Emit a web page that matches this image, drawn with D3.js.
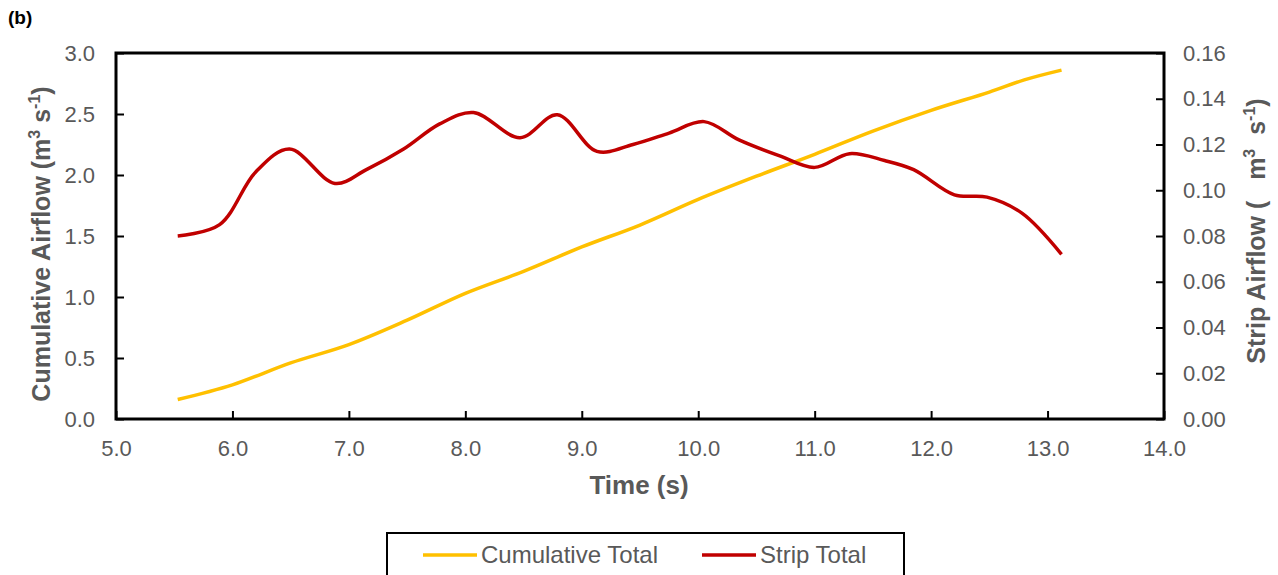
<!DOCTYPE html>
<html>
<head>
<style>
  body { margin: 0; background: #fff; }
  svg text { font-family: "Liberation Sans", Arial, sans-serif; }
</style>
</head>
<body>
<div id="chart"></div>
<script src="https://d3js.org/d3.v7.min.js"></script>
<script>
// cumulative total (left axis)
const cumTime = [5.53, 6.0, 6.5, 7.0, 7.5, 8.0, 8.5, 9.0, 9.5, 10.0, 10.5, 11.0, 11.5, 12.0, 12.5, 12.8, 13.12];
const cumValue = [0.16, 0.28, 0.46, 0.61, 0.81, 1.03, 1.21, 1.41, 1.59, 1.80, 1.99, 2.17, 2.36, 2.53, 2.68, 2.78, 2.86];

// strip total (right axis)
const stripTime = [5.53, 5.89, 6.2, 6.49, 6.88, 7.15, 7.47, 7.78, 8.07, 8.47, 8.79, 9.13, 9.44, 9.75, 10.05, 10.35, 10.7, 11.0, 11.3, 11.6, 11.85, 12.2, 12.48, 12.78, 13.12];
const stripValue = [0.080, 0.085, 0.108, 0.118, 0.103, 0.109, 0.118, 0.129, 0.134, 0.123, 0.133, 0.117, 0.120, 0.125, 0.130, 0.122, 0.115, 0.110, 0.116, 0.113, 0.109, 0.098, 0.097, 0.090, 0.072];

const xTicks = [5, 6, 7, 8, 9, 10, 11, 12, 13, 14];
const leftTicks = [0, 0.5, 1.0, 1.5, 2.0, 2.5, 3.0];
const rightTicks = [0, 0.02, 0.04, 0.06, 0.08, 0.10, 0.12, 0.14, 0.16];

const width = 1278, height = 575;
const m = { left: 116, right: 1164, top: 53, bottom: 419 };
const grey = '#595959';

const svg = d3.select('#chart').append('svg')
  .attr('width', width)
  .attr('height', height);

const x = d3.scaleLinear().domain([5, 14]).range([m.left, m.right]);
const yL = d3.scaleLinear().domain([0, 3]).range([m.bottom, m.top]);
const yR = d3.scaleLinear().domain([0, 0.16]).range([m.bottom, m.top]);

// panel label
svg.append('text').attr('x', 8).attr('y', 24)
  .attr('font-size', 19).attr('font-weight', 'bold').attr('fill', '#000')
  .text('(b)');

// lines
const cumLine = d3.line().x((d, i) => x(cumTime[i])).y(d => yL(d)).curve(d3.curveCatmullRom);
const stripLine = d3.line().x((d, i) => x(stripTime[i])).y(d => yR(d)).curve(d3.curveCatmullRom);

svg.append('path').datum(cumValue)
  .attr('d', cumLine).attr('fill', 'none')
  .attr('stroke', '#FFC000').attr('stroke-width', 3.5);

svg.append('path').datum(stripValue)
  .attr('d', stripLine).attr('fill', 'none')
  .attr('stroke', '#C00000').attr('stroke-width', 3.5);

// axes (inside ticks)
const styleAxis = g => {
  g.select('.domain').remove();
  g.selectAll('.tick line').attr('stroke', '#000').attr('stroke-width', 2);
  g.selectAll('.tick text').attr('fill', grey).attr('font-size', 22)
    .attr('font-family', '"Liberation Sans", Arial, sans-serif');
};

svg.append('g').attr('transform', `translate(0,${m.bottom})`)
  .call(d3.axisBottom(x).tickValues(xTicks).tickFormat(d3.format('.1f')).tickSizeInner(-8).tickPadding(21))
  .call(styleAxis);

svg.append('g').attr('transform', `translate(${m.left},0)`)
  .call(d3.axisLeft(yL).tickValues(leftTicks).tickFormat(d3.format('.1f')).tickSizeInner(-8).tickPadding(21))
  .call(styleAxis);

svg.append('g').attr('transform', `translate(${m.right},0)`)
  .call(d3.axisRight(yR).tickValues(rightTicks).tickFormat(d3.format('.2f')).tickSizeInner(-8).tickPadding(19))
  .call(styleAxis);

// frame
svg.append('rect')
  .attr('x', m.left).attr('y', m.top)
  .attr('width', m.right - m.left).attr('height', m.bottom - m.top)
  .attr('fill', 'none').attr('stroke', '#000').attr('stroke-width', 3);

// axis titles
svg.append('text')
  .attr('x', 639).attr('y', 494)
  .attr('text-anchor', 'middle').attr('font-size', 26).attr('font-weight', 'bold').attr('fill', grey)
  .text('Time (s)');

const lt = svg.append('text')
  .attr('transform', 'translate(50,244) rotate(-90)')
  .attr('text-anchor', 'middle').attr('font-size', 25).attr('font-weight', 'bold').attr('fill', grey);
lt.append('tspan').text('Cumulative Airflow (m');
lt.append('tspan').attr('font-size', 16).attr('dy', -10).text('3');
lt.append('tspan').attr('dy', 10).text(' s');
lt.append('tspan').attr('font-size', 16).attr('dy', -10).text('-1');
lt.append('tspan').attr('dy', 10).text(')');

const rt = svg.append('text')
  .attr('transform', 'translate(1265,231) rotate(-90)')
  .attr('text-anchor', 'middle').attr('font-size', 25).attr('font-weight', 'bold').attr('fill', grey);
rt.append('tspan').text('Strip Airflow (\u00a0\u00a0\u00a0m');
rt.append('tspan').attr('font-size', 16).attr('dy', -10).text('3');
rt.append('tspan').attr('dy', 10).text('\u00a0\u00a0s');
rt.append('tspan').attr('font-size', 16).attr('dy', -10).text('-1');
rt.append('tspan').attr('dy', 10).text(')');

// legend
const legend = svg.append('g');
legend.append('rect')
  .attr('x', 387).attr('y', 533).attr('width', 517).attr('height', 50)
  .attr('fill', '#fff').attr('stroke', '#000').attr('stroke-width', 2);

const legendItems = [
  { name: 'Cumulative Total', color: '#FFC000', x0: 423 },
  { name: 'Strip Total', color: '#C00000', x0: 702 }
];
legendItems.forEach(d => {
  legend.append('line')
    .attr('x1', d.x0).attr('x2', d.x0 + 54).attr('y1', 555).attr('y2', 555)
    .attr('stroke', d.color).attr('stroke-width', 3.5);
  legend.append('text')
    .attr('x', d.x0 + 58).attr('y', 563)
    .attr('font-size', 24).attr('fill', grey)
    .text(d.name);
});
</script>
</body>
</html>
